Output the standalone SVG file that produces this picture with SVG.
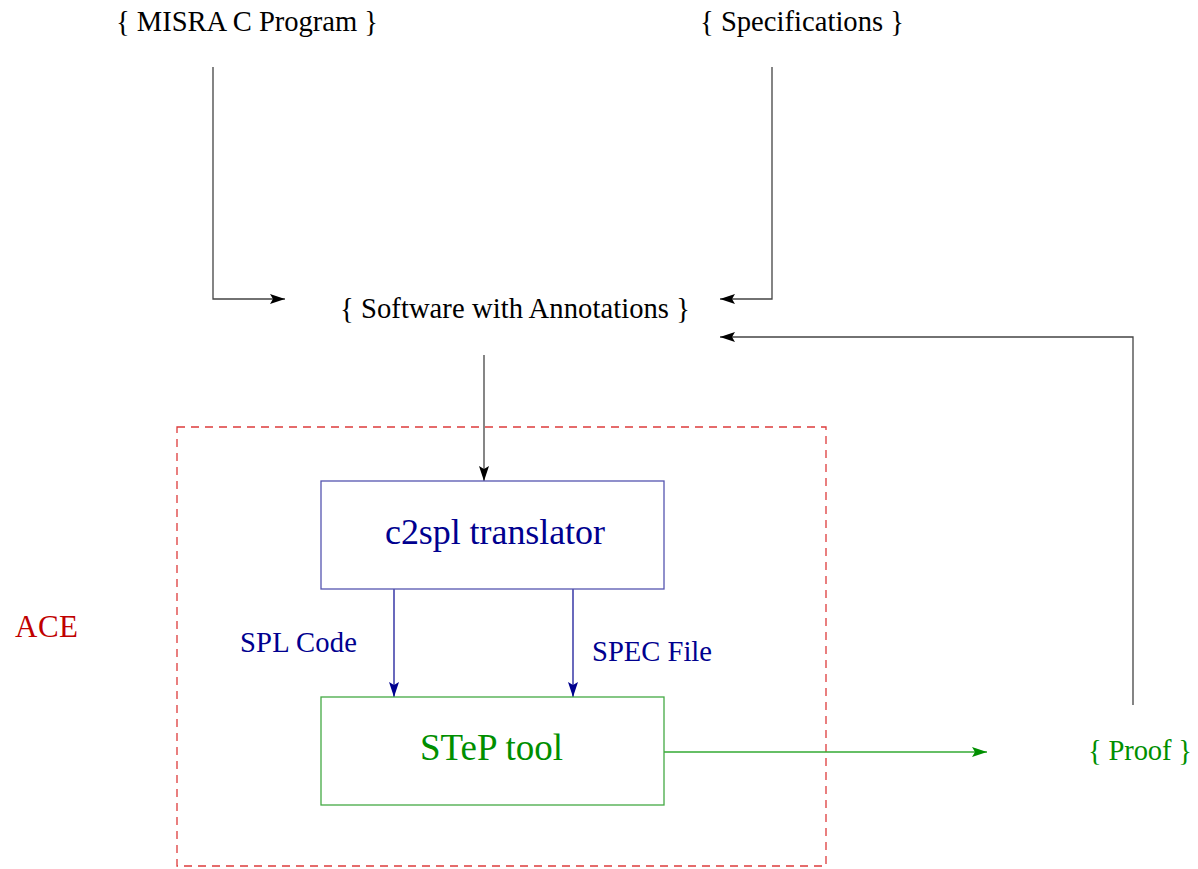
<svg xmlns="http://www.w3.org/2000/svg" width="1198" height="869" viewBox="0 0 1198 869">
<style>
text{font-family:"Liberation Serif","Times New Roman",serif}
.blk{fill:#000;font-size:28.6px}
.nv{fill:#00008f}
.gr{fill:#008f00}
.ln{fill:none;stroke:#444;stroke-width:1.3}
.lnb{fill:none;stroke:#1a1a99;stroke-width:1.3}
.lng{fill:none;stroke:#33aa33;stroke-width:1.3}
</style>
<defs>
<marker id="ak" markerUnits="userSpaceOnUse" markerWidth="16" markerHeight="10" refX="15" refY="5" orient="auto"><path d="M0,0 L15,5 L0,10 L3,5 Z" fill="#000"/></marker>
<marker id="ab" markerUnits="userSpaceOnUse" markerWidth="16" markerHeight="10" refX="15" refY="5" orient="auto"><path d="M0,0 L15,5 L0,10 L3,5 Z" fill="#00008f"/></marker>
<marker id="ag" markerUnits="userSpaceOnUse" markerWidth="16" markerHeight="10" refX="15" refY="5" orient="auto"><path d="M0,0 L15,5 L0,10 L3,5 Z" fill="#008f00"/></marker>
</defs>
<rect width="1198" height="869" fill="#fff"/>
<g id="ace">
<rect x="177" y="427" width="649" height="439" fill="none" stroke="#dd3b3b" stroke-width="1.3" stroke-dasharray="8,6"/>
<text x="15" y="637" font-size="31" fill="#c00000" textLength="63" lengthAdjust="spacing">ACE</text>
</g>
<g id="connectors">
<path class="ln" d="M213,67 V299 H285" marker-end="url(#ak)"/>
<path class="ln" d="M772,67 V299 H720" marker-end="url(#ak)"/>
<path class="ln" d="M1133,705 V337 H720" marker-end="url(#ak)"/>
<path class="ln" d="M484,355 V481" marker-end="url(#ak)"/>
<path class="lnb" d="M394,589 V697" marker-end="url(#ab)"/>
<path class="lnb" d="M573,589 V697" marker-end="url(#ab)"/>
<path class="lng" d="M664,752 H987" marker-end="url(#ag)"/>
<text x="240" y="652" font-size="28.6" class="nv" textLength="117" lengthAdjust="spacing">SPL Code</text>
<text x="592" y="661" font-size="28.6" class="nv" textLength="120" lengthAdjust="spacing">SPEC File</text>
</g>
<g id="misra"><text x="116" y="31" class="blk" textLength="262" lengthAdjust="spacing">{ MISRA C Program }</text></g>
<g id="specs"><text x="700" y="31" class="blk" textLength="204" lengthAdjust="spacing">{ Specifications }</text></g>
<g id="software"><text x="340" y="318" class="blk" textLength="350" lengthAdjust="spacing">{ Software with Annotations }</text></g>
<g id="c2spl">
<rect x="321" y="481" width="343" height="108" fill="none" stroke="#5555b0" stroke-width="1.3"/>
<text x="385" y="544" font-size="36" class="nv" textLength="220" lengthAdjust="spacing">c2spl translator</text>
</g>
<g id="step">
<rect x="321" y="697" width="343" height="108" fill="none" stroke="#44aa44" stroke-width="1.3"/>
<text x="420" y="760" font-size="37" class="gr" textLength="143" lengthAdjust="spacing">STeP tool</text>
</g>
<g id="proof"><text x="1088" y="760" font-size="28.6" class="gr" textLength="104" lengthAdjust="spacing">{ Proof }</text></g>
</svg>
